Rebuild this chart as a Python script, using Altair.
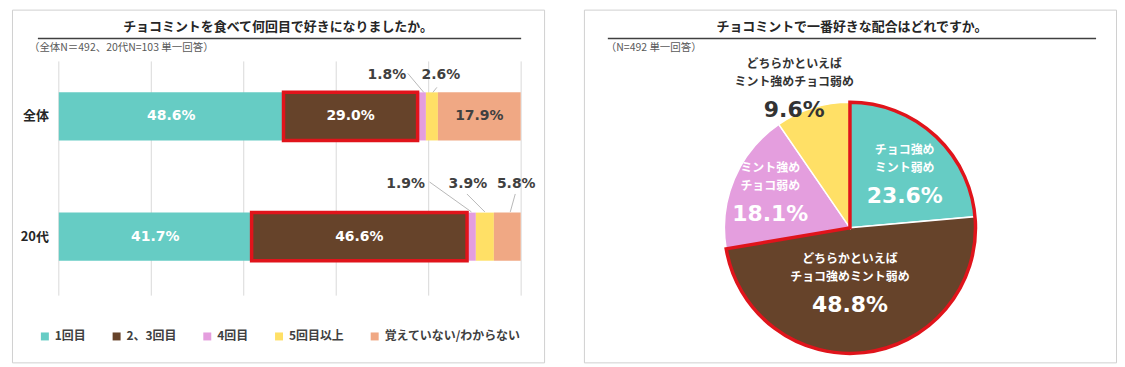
import altair as alt
import pandas as pd

JP = "Noto Sans CJK JP"
NUM = "DejaVu Sans"
DARK = "#404040"
RED = "#E0141B"

# ---------------- data: left panel ----------------
groups = ["全体", "20代"]
answers = ["1回目", "2、3回目", "4回目", "5回目以上", "覚えていない/わからない"]
values_all = [48.6, 29.0, 1.8, 2.6, 17.9]
values_20s = [41.7, 46.6, 1.9, 3.9, 5.8]
answer_colors = ["#66CCC4", "#66432A", "#E49EDE", "#FFE066", "#F0A884"]
grid_ticks = [0, 20, 40, 60, 80, 100]
highlight_answer = "2、3回目"
left_title = "チョコミントを食べて何回目で好きになりましたか。"
left_note = "（全体N＝492、20代N=103 単一回答）"

# ---------------- data: right panel ----------------
blends = ["チョコ強めミント弱め", "どちらかといえばチョコ強めミント弱め",
          "ミント強めチョコ弱め", "どちらかといえばミント強めチョコ弱め"]
blend_line1 = ["チョコ強め", "どちらかといえば", "ミント強め", "どちらかといえば"]
blend_line2 = ["ミント弱め", "チョコ強めミント弱め", "チョコ弱め", "ミント強めチョコ弱め"]
blend_values = [23.6, 48.8, 18.1, 9.6]
blend_colors = ["#66CCC4", "#66432A", "#E49EDE", "#FFE066"]
blend_side = ["チョコ強め", "チョコ強め", "ミント強め", "ミント強め"]
right_title = "チョコミントで一番好きな配合はどれですか。"
right_note = "（N=492 単一回答）"

# ---------------- tables ----------------
rows = []
for g, vals in zip(groups, [values_all, values_20s]):
    for i, (a, v) in enumerate(zip(answers, vals)):
        rows.append({"group": g, "answer": a, "idx": i, "value": v})
bar_df = pd.DataFrame(rows)
pie_df = pd.DataFrame({"blend": blends, "line1": blend_line1, "line2": blend_line2,
                       "value": blend_values, "side": blend_side,
                       "idx": list(range(len(blends)))})

# ---------------- layout ----------------
W, H = 534, 354
X0, X1 = 47, 511
PXU = (X1 - X0) / 100.0


def one_text(txt, x, y, **kw):
    return alt.Chart(pd.DataFrame({"t": [txt]})).mark_text(**kw).encode(
        text="t:N", x=alt.value(x), y=alt.value(y))


def underline(x1, x2, y):
    return alt.Chart(pd.DataFrame({"a": [0]})).mark_rule(color="#404040", strokeWidth=1.5).encode(
        x=alt.value(x1), x2=alt.value(x2), y=alt.value(y))


xscale = alt.Scale(domain=[0, 100], range=[X0, X1])
yscale = alt.Scale(domain=groups, range=[52, 283], paddingInner=0.6, paddingOuter=0.257)

legend = alt.Legend(orient="none", legendX=27, legendY=322, direction="horizontal", title=None,
                    symbolType="square", symbolSize=64, symbolStrokeWidth=0,
                    labelFont=JP, labelFontSize=12, labelFontWeight="bold", labelColor=DARK,
                    columnPadding=24, labelOffset=4)

base = alt.Chart(bar_df).transform_window(
    cum="sum(value)", sort=[alt.SortField("idx", order="ascending")],
    groupby=["group"], frame=[None, 0]
).transform_calculate(
    start="datum.cum - datum.value",
    mid="datum.cum - datum.value / 2",
    label="format(datum.value, '.1f') + '%'",
)

grid = alt.Chart(pd.DataFrame({"tick": grid_ticks})).mark_rule(color="#D9D9D9", strokeWidth=1).encode(
    x=alt.X("tick:Q", scale=xscale, axis=None), y=alt.value(52), y2=alt.value(287))

bars = base.mark_bar().encode(
    x=alt.X("start:Q", scale=xscale, axis=None), x2="cum:Q",
    y=alt.Y("group:N", scale=yscale, axis=None),
    color=alt.Color("answer:N", scale=alt.Scale(domain=answers, range=answer_colors), legend=legend),
)

outline = base.transform_filter(alt.datum.answer == highlight_answer).mark_bar(
    fillOpacity=0, stroke=RED, strokeWidth=3.5).encode(
    x=alt.X("start:Q", scale=xscale, axis=None), x2="cum:Q",
    y=alt.Y("group:N", scale=yscale, axis=None))

inside = base.transform_filter("datum.value >= 10").mark_text(
    font=NUM, fontSize=14, fontWeight="bold").encode(
    x=alt.X("mid:Q", scale=xscale, axis=None),
    y=alt.Y("group:N", scale=yscale, axis=None),
    text="label:N",
    color=alt.condition(alt.datum.idx == 4, alt.value(DARK), alt.value("white")),
)

cat_labels = alt.Chart(pd.DataFrame({"group": groups})).mark_text(
    font=JP, fontSize=13, fontWeight="bold", color="#262626", align="right").encode(
    x=alt.value(37), y=alt.Y("group:N", scale=yscale, axis=None), text="group:N")

# small-segment labels: (group, idx): label dx, dy, leader x-offset start/end (px), leader y start/end
small = {
    ("全体", 2): (-35, -42, -14, 64, 2, 83),
    ("全体", 3): (9, -42, 5, 78, 1, 83),
    ("20代", 2): (-66, -53, -42, 173, 0, 203),
    ("20代", 3): (-17, -53, -18, 185, 0, 203),
    ("20代", 4): (9, -53, 8, 185, 3, 203),
}
small_layers = []
for (g, i), (dx, dy, ox1, y1, ox2, y2) in small.items():
    sel = base.transform_filter((alt.datum.group == g) & (alt.datum.idx == i))
    small_layers.append(
        sel.transform_calculate(lx1=f"datum.mid + {ox1 / PXU}", lx2=f"datum.mid + {ox2 / PXU}")
        .mark_rule(color="#A6A6A6", strokeWidth=0.8)
        .encode(x=alt.X("lx1:Q", scale=xscale, axis=None), x2="lx2:Q",
                y=alt.value(y1), y2=alt.value(y2)))
    small_layers.append(
        sel.mark_text(font=NUM, fontSize=14, fontWeight="bold", color=DARK, dx=dx, dy=dy)
        .encode(x=alt.X("mid:Q", scale=xscale, axis=None),
                y=alt.Y("group:N", scale=yscale, axis=None), text="label:N"))

left = alt.layer(
    grid, bars, outline, inside, cat_labels, *small_layers,
    one_text(left_title, 267, 17, font=JP, fontSize=13, fontWeight="bold", color="#262626"),
    underline(26, 511, 29),
    one_text(left_note, 17, 39, font=JP, fontSize=10.5, color="#595959", align="left"),
).properties(width=W, height=H)

# ---------------- right panel ----------------
CX, CY, R = 267, 219, 126
pie = alt.Chart(pie_df).mark_arc(outerRadius=R, stroke="white", strokeWidth=1.5).encode(
    theta=alt.Theta("value:Q", stack=True),
    color=alt.Color("blend:N", scale=alt.Scale(domain=blends, range=blend_colors), legend=None),
    order=alt.Order("idx:Q"),
    x=alt.value(CX), y=alt.value(CY),
)

pie_outline = alt.Chart(pie_df).transform_aggregate(
    total="sum(value)", ord="min(idx)", groupby=["side"]
).mark_arc(outerRadius=R, fillOpacity=0, stroke=RED, strokeWidth=3.5).encode(
    theta=alt.Theta("total:Q", stack=True),
    order=alt.Order("ord:Q"),
    strokeOpacity=alt.condition(alt.datum.ord == 0, alt.value(1), alt.value(0)),
    x=alt.value(CX), y=alt.value(CY),
)

pct_radius = [63.6, 77, 81.2, 130.6]
pct_nudge = [17.3, 7.4, -13.0, -8.1]
lab_base = alt.Chart(pie_df).transform_joinaggregate(total="sum(value)").transform_window(
    cum="sum(value)", sort=[alt.SortField("idx")], frame=[None, 0]
).transform_calculate(
    ang=f"2*PI*(datum.cum - datum.value/2)/datum.total + {pct_nudge}[datum.idx]*PI/180",
    rad=f"{pct_radius}[datum.idx]",
    pct="format(datum.value, '.1f') + '%'",
)


def pie_text(field, dy, font, size):
    return lab_base.mark_text(font=font, fontSize=size, fontWeight="bold", dy=dy).encode(
        x=alt.value(CX), y=alt.value(CY),
        theta=alt.Theta("ang:Q", scale=None), radius=alt.Radius("rad:Q", scale=None),
        text=f"{field}:N",
        color=alt.condition(alt.datum.idx == 3, alt.value("#333333"), alt.value("white")),
    )


right = alt.layer(
    pie, pie_outline,
    pie_text("line1", -46, JP, 12), pie_text("line2", -28, JP, 12), pie_text("pct", 0, NUM, 22),
    one_text(right_title, 269, 17, font=JP, fontSize=13, fontWeight="bold", color="#262626"),
    underline(24, 514, 29),
    one_text(right_note, 22, 39, font=JP, fontSize=10.5, color="#595959", align="left"),
).properties(width=W, height=H)

chart = alt.hconcat(left, right, spacing=38).resolve_scale(color="independent").properties(
    padding={"left": 3, "top": 0, "right": 0, "bottom": 0}, background="white"
).configure_view(stroke="#D0D0D0", strokeWidth=1)

chart.save("out.html", embed_options={"renderer": "svg", "actions": False})
